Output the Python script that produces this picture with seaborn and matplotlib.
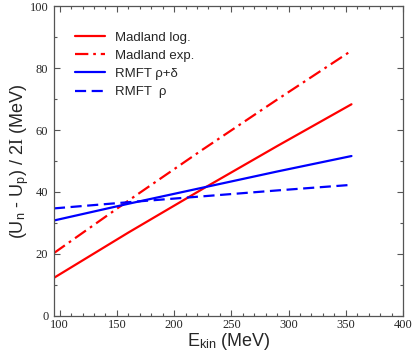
import matplotlib
matplotlib.use("Agg")
import matplotlib.pyplot as plt
from matplotlib.ticker import MultipleLocator
import seaborn as sns
import pandas as pd

energy = [95, 160, 225, 290, 355]
madland_log = [12.3, 26.9, 41.0, 54.8, 68.3]
madland_exp = [20.3, 37.2, 53.7, 69.8, 85.6]
rmft_rho_delta = [30.8, 36.2, 41.4, 46.6, 51.6]
rmft_rho = [34.7, 36.7, 38.6, 40.5, 42.3]

labels = ["Madland log.", "Madland exp.", "RMFT ρ+δ", "RMFT  ρ"]
series = [madland_log, madland_exp, rmft_rho_delta, rmft_rho]
colors = ["#ff0000", "#ff0000", "#0000ff", "#0000ff"]
dashes = [None, (6, 2.2, 1.2, 2.2), None, (5, 2.5)]

sns.set_style("ticks")
plt.rcParams["font.family"] = ["Liberation Sans", "DejaVu Sans"]
plt.rcParams["mathtext.fontset"] = "custom"
plt.rcParams["mathtext.rm"] = "Liberation Serif"
plt.rcParams["mathtext.it"] = "Liberation Serif:italic"
plt.rcParams["mathtext.sf"] = "Liberation Sans"

fig = plt.figure(figsize=(4.15, 3.55), dpi=100)
ax = fig.add_axes([0.130, 0.110, 0.841, 0.873])

for lab, vals, col, d in zip(labels, series, colors, dashes):
    df = pd.DataFrame({"E": energy, "U": vals})
    sns.lineplot(data=df, x="E", y="U", ax=ax, color=col, linewidth=1.6, label=lab)
    l = ax.get_lines()[-1]
    if d is not None:
        l.set_dashes(d)

ax.set_xlim(95, 400)
ax.set_ylim(0, 100)
ax.xaxis.set_major_locator(MultipleLocator(50))
ax.xaxis.set_minor_locator(MultipleLocator(10))
ax.yaxis.set_major_locator(MultipleLocator(20))
ax.yaxis.set_minor_locator(MultipleLocator(10))
ax.tick_params(which="both", direction="in", top=True, right=True, color="#555555")
ax.tick_params(which="major", length=4, width=0.8, labelsize=9)
ax.tick_params(which="minor", length=2, width=0.8)
ax.tick_params(axis="x", which="major", pad=2)
ax.tick_params(axis="y", which="major", pad=4)
for lab in ax.get_xticklabels() + ax.get_yticklabels():
    lab.set_family("Liberation Serif")
for s in ax.spines.values():
    s.set_color("#555555")
    s.set_linewidth(0.9)

ax.set_xlabel(r"E$_\mathregular{kin}$ (MeV)", fontsize=13, labelpad=0)
ax.set_ylabel(r"(U$_\mathregular{n}$ - U$_\mathregular{p}$) / 2$\mathrm{I}$ (MeV)", fontsize=13, labelpad=-1)

leg = ax.legend(loc="upper left", frameon=False, fontsize=9.5, handlelength=2.3,
                handletextpad=0.7, labelspacing=0.45, borderaxespad=0,
                bbox_to_anchor=(0.045, 0.935))

fig.savefig("out.png", dpi=100)
